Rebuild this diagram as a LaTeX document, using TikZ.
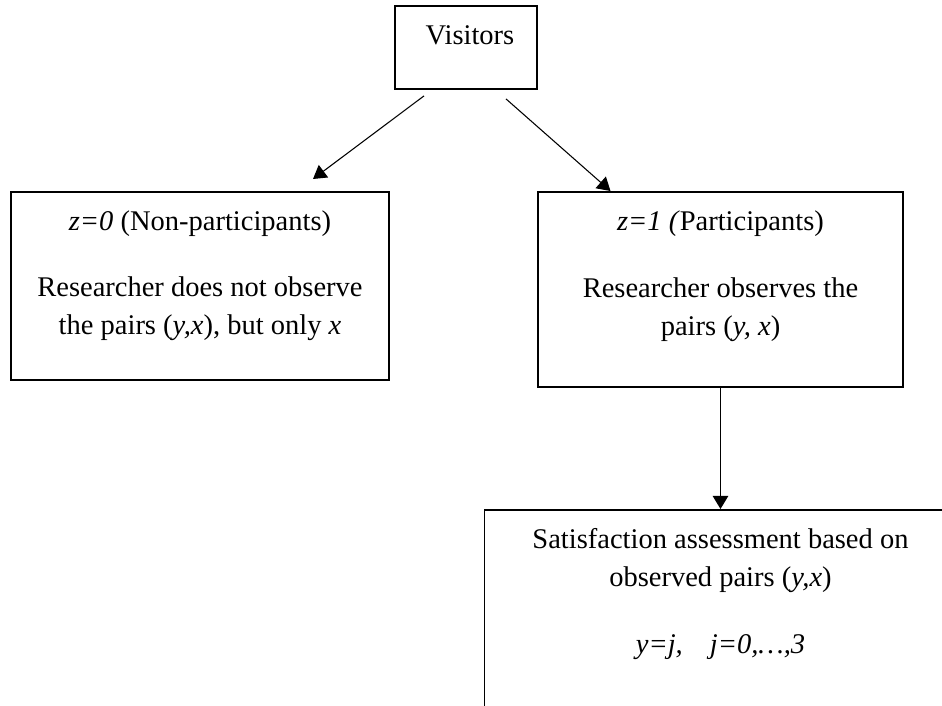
\documentclass[tikz,border=0pt]{standalone}
\usepackage{fontspec}
\setmainfont{Liberation Serif}
\usetikzlibrary{arrows.meta}
\newlength{\pxu}
\setlength{\pxu}{0.421pt}

\begin{document}
\begin{tikzpicture}[x=0.421pt, y=-0.421pt,
    box/.style={draw, line width=0.8pt, inner sep=0pt, align=flush center, anchor=north,
        text height=39\pxu, font=\fontsize{12}{16}\selectfont},
    link/.style={line width=0.45pt, -{Triangle[length=5.5pt,width=6.5pt]}}]
    \useasboundingbox (0,0) rectangle (942,706);
    \clip (0,0) rectangle (942,706);
    \node[box, text width=142\pxu, text depth=44\pxu] (visitors) at (466,5) {\hspace*{8\pxu}Visitors};
    \node[box, text width=378\pxu, text depth=149\pxu] (nonpart) at (200,191)
        {\textit{z=0} (Non-participants)\\[28\pxu] Researcher does not observe\\ the pairs (\textit{y,x}), but only \textit{x}};
    \node[box, text width=365\pxu, text depth=156\pxu] (part) at (720.5,191)
        {\textit{z=1 (}Participants)\\[29\pxu] Researcher observes the\\ pairs (\textit{y, x})};
    \node[box, text width=472\pxu, text depth=222\pxu] (assess) at (720.5,509)
        {Satisfaction assessment based on\\ observed pairs (\textit{y,x})\\[29\pxu] \textit{y=j,\hspace{0.95em}j=0,…,3}};
    \draw[link] ([shift={(-42,6)}]visitors.south) -- ([shift={(113,-12)}]nonpart.north);
    \draw[link] ([shift={(40,9)}]visitors.south) -- ([shift={(-110,0)}]part.north);
    \draw[link] (part.south) -- (assess.north);
\end{tikzpicture}
\end{document}
